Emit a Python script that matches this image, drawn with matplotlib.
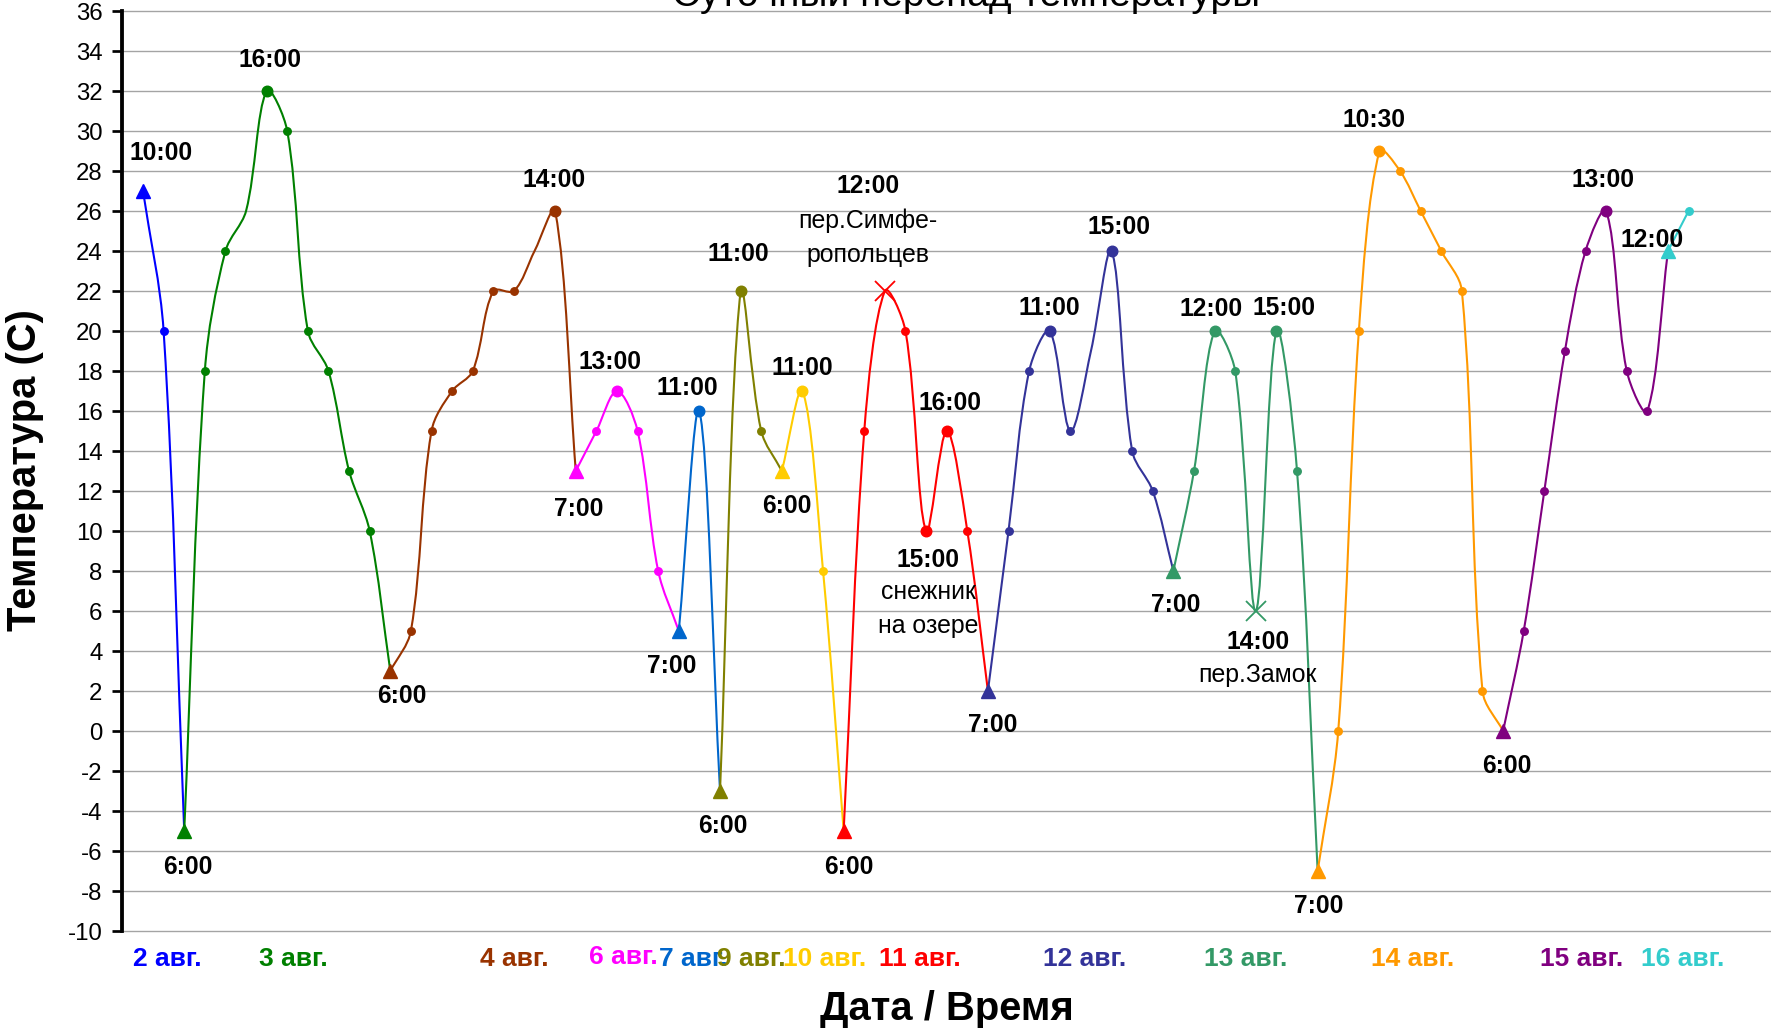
import numpy as np
import matplotlib
matplotlib.use("Agg")
import matplotlib.pyplot as plt
from matplotlib.path import Path
from matplotlib.patches import PathPatch

plt.rcParams["font.family"] = ["Liberation Sans", "DejaVu Sans"]
plt.rcParams["axes.unicode_minus"] = False

# category slot of every reading and its temperature (C), one series per day
k_02 = [1, 2, 3];                          t_02 = [27, 20, -5]
k_03 = list(range(3, 14));                 t_03 = [-5, 18, 24, 26, 32, 30, 20, 18, 13, 10, 3]
k_04 = list(range(13, 23));                t_04 = [3, 5, 15, 17, 18, 22, 22, 24, 26, 13]
k_06 = list(range(22, 28));                t_06 = [13, 15, 17, 15, 8, 5]
k_07 = [27, 28, 29];                       t_07 = [5, 16, -3]
k_09 = [29, 30, 31, 32];                   t_09 = [-3, 22, 15, 13]
k_10 = [32, 33, 34, 35];                   t_10 = [13, 17, 8, -5]
k_11 = list(range(35, 43));                t_11 = [-5, 15, 22, 20, 10, 15, 10, 2]
k_12 = list(range(42, 52));                t_12 = [2, 10, 18, 20, 15, 19, 24, 14, 12, 8]
k_13 = list(range(51, 59));                t_13 = [8, 13, 20, 18, 6, 20, 13, -7]
k_14 = list(range(58, 68));                t_14 = [-7, 0, 20, 29, 28, 26, 24, 22, 2, 0]
k_15 = list(range(67, 76));                t_15 = [0, 5, 12, 19, 24, 26, 18, 16, 24]
k_16 = [75, 76];                           t_16 = [24, 26]

days = ["2 авг.", "3 авг.", "4 авг.", "6 авг.", "7 авг.", "9 авг.", "10 авг.",
        "11 авг.", "12 авг.", "13 авг.", "14 авг.", "15 авг.", "16 авг."]
day_x = [2.17, 8.3, 19.0, 24.3, 27.7, 30.5, 34.1, 38.7, 46.7, 54.5, 62.6, 70.8, 75.7]

series = [(k_02, t_02), (k_03, t_03), (k_04, t_04), (k_06, t_06), (k_07, t_07),
          (k_09, t_09), (k_10, t_10), (k_11, t_11), (k_12, t_12), (k_13, t_13),
          (k_14, t_14), (k_15, t_15), (k_16, t_16)]
colors = ["#0000FF", "#008000", "#993300", "#FF00FF", "#0066CC", "#808000", "#FFCC00",
          "#FF0000", "#333399", "#339966", "#FF9900", "#800080", "#33CCCC"]
# ^ = morning minimum, o = daily maximum, . = reading, x = pass / snowfield, - = no marker
marks = ["^.-", "^..-o.....-", "^......-o-", "^.o..-", "^o-", "^o.-", "^o.-",
         "^.x.oo.-", "^..o.-o..-", "^.o.xo.-", "^..o.....-", "^....o..-", "^."]

# (series, point, text, bold, dx px, dy px to baseline)
notes = [
    (0, 0, "10:00", True, 18, 30.8), (1, 0, "6:00", True, 4, -42.7),
    (1, 4, "16:00", True, 3, 24.3), (2, 0, "6:00", True, 12, -31.7),
    (2, 8, "14:00", True, -1, 24.3), (3, 0, "7:00", True, 3, -45.2),
    (3, 2, "13:00", True, -7, 22.3), (4, 0, "7:00", True, -7, -41.7),
    (4, 1, "11:00", True, -12, 16.3), (5, 0, "6:00", True, 3, -41.7),
    (5, 1, "11:00", True, -2, 30.3), (6, 0, "6:00", True, 5, -41.7),
    (6, 1, "11:00", True, 0, 16.3), (7, 0, "6:00", True, 5, -42.7),
    (7, 2, "12:00", True, -17, 97.7), (7, 2, "пер.Симфе-", False, -17, 63.3),
    (7, 2, "ропольцев", False, -17, 29.3),
    (7, 4, "15:00", True, 2, -36.3), (7, 4, "снежник", False, 2, -68.3),
    (7, 4, "на озере", False, 2, -101.7),
    (7, 5, "16:00", True, 3.5, 21.3), (8, 0, "7:00", True, 5, -40.7),
    (8, 3, "11:00", True, 0, 16.3), (8, 6, "15:00", True, 7, 17),
    (9, 0, "7:00", True, 2, -40.7), (9, 2, "12:00", True, -4, 14.8),
    (9, 4, "14:00", True, 2, -38), (9, 4, "пер.Замок", False, 2, -70.7),
    (9, 5, "15:00", True, 8, 16.3), (10, 0, "7:00", True, 1, -41.7),
    (10, 3, "10:30", True, -5, 24.3), (11, 0, "6:00", True, 4, -41.7),
    (11, 5, "13:00", True, -3, 24.3), (12, 0, "12:00", True, -16, 4.3),
]


def smooth_path(x, y):
    # Excel-like smoothed line: cubic Bezier, handles scaled by neighbouring segment lengths
    p = np.column_stack([x, y]).astype(float)
    e = np.vstack([p[:1], p, p[-1:]])
    verts, codes = [p[0]], [Path.MOVETO]
    for i in range(len(p) - 1):
        a, b, c, d = e[i], e[i + 1], e[i + 2], e[i + 3]
        lab, lbc, lcd = (np.hypot(*(b - a)), np.hypot(*(c - b)), np.hypot(*(d - c)))
        f1 = lbc / (lab + lbc) / 3 if lab + lbc > 0 else 0
        f2 = lbc / (lbc + lcd) / 3 if lbc + lcd > 0 else 0
        verts += [b + (c - a) * f1, c - (d - b) * f2, c]
        codes += [Path.CURVE4] * 3
    return Path(verts, codes)


W, H = 1771, 1034
fig = plt.figure(figsize=(W / 100, H / 100), dpi=100)
ax = fig.add_axes([122.4 / W, 1 - 931 / H, 1 - 122.4 / W, 920 / H])
ax.set_xlim(0, 80); ax.set_ylim(-10, 36)
ax.set_yticks(np.arange(-10, 37, 2)); ax.set_xticks([])
ax.yaxis.grid(True, color="#a4a4a4", lw=1.0)
for gl in ax.get_ygridlines(): gl.set_clip_on(False)
ax.set_axisbelow(True)
for s in ("top", "right", "bottom"): ax.spines[s].set_visible(False)
ax.spines["left"].set_linewidth(2.75); ax.spines["left"].set_zorder(5)
ax.tick_params(axis="y", direction="out", length=6.9, width=1.95, labelsize=17.3, pad=7.5)

style = {"^": dict(marker="^", ms=9.6), "o": dict(marker="o", ms=7.6),
         ".": dict(marker="o", ms=5.4), "x": dict(marker="x", ms=15, mew=1.3)}
for (k, t), col, m in zip(series, colors, marks):
    ax.add_patch(PathPatch(smooth_path(k, t), fc="none", ec=col, lw=1.5, zorder=3))
    for code, kw in style.items():
        idx = [i for i, c in enumerate(m) if c == code]
        if idx:
            ax.plot(np.array(k)[idx], np.array(t)[idx], ls="none", color=col, mec=col,
                    zorder=4, **kw)

for si, pi, txt, bold, dx, dy in notes:
    k, t = series[si]
    ax.annotate(txt, (k[pi], t[pi]), xytext=(dx, dy), textcoords="offset pixels",
                ha="center", va="baseline", fontsize=17.7 if bold else 17.9,
                fontweight="bold" if bold else "normal", zorder=6)

for d, x, col in zip(days, day_x, colors):
    ax.text(x, -0.0308 if d != "6 авг." else -0.0278, d, transform=ax.get_xaxis_transform(),
            ha="center", va="center", color=col, fontsize=19, fontweight="bold")

fig.text(966 / W, 1 - 6.5 / H, "Суточный перепад температуры", ha="center", va="baseline",
         fontsize=28)
fig.text(25 / W, 1 - 470 / H, "Температура (С)", rotation=90, ha="center", va="center",
         fontsize=28.8, fontweight="bold")
fig.text(946.7 / W, 1 - 1008.6 / H, "Дата / Время", ha="center", va="center",
         fontsize=28.8, fontweight="bold")

fig.savefig("out.png", dpi=100)
